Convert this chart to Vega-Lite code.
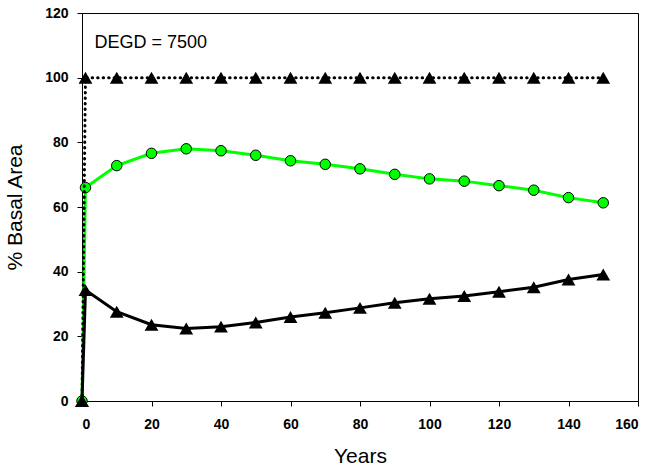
{
  "$schema": "https://vega.github.io/schema/vega-lite/v6.json",
  "width": 556,
  "height": 388,
  "autosize": "none",
  "padding": {"left": 82, "top": 13, "right": 10, "bottom": 71},
  "background": "white",
  "config": {
    "view": {"stroke": "black", "strokeWidth": 1},
    "font": "Liberation Sans",
    "axis": {
      "grid": false,
      "domainColor": "black",
      "tickColor": "black",
      "tickSize": 5,
      "labelFont": "Liberation Sans",
      "labelFontWeight": "bold",
      "labelFontSize": 14,
      "labelColor": "black",
      "titleFont": "Liberation Sans",
      "titleFontWeight": "normal",
      "titleFontSize": 21,
      "titleColor": "black"
    }
  },
  "datasets": {
    "series": [
      {"year": 0, "pct": 0, "series": "dotted"},
      {"year": 1, "pct": 100, "series": "dotted"},
      {"year": 10, "pct": 100, "series": "dotted"},
      {"year": 20, "pct": 100, "series": "dotted"},
      {"year": 30, "pct": 100, "series": "dotted"},
      {"year": 40, "pct": 100, "series": "dotted"},
      {"year": 50, "pct": 100, "series": "dotted"},
      {"year": 60, "pct": 100, "series": "dotted"},
      {"year": 70, "pct": 100, "series": "dotted"},
      {"year": 80, "pct": 100, "series": "dotted"},
      {"year": 90, "pct": 100, "series": "dotted"},
      {"year": 100, "pct": 100, "series": "dotted"},
      {"year": 110, "pct": 100, "series": "dotted"},
      {"year": 120, "pct": 100, "series": "dotted"},
      {"year": 130, "pct": 100, "series": "dotted"},
      {"year": 140, "pct": 100, "series": "dotted"},
      {"year": 150, "pct": 100, "series": "dotted"},
      {"year": 0, "pct": 0, "series": "green"},
      {"year": 1, "pct": 66.0, "series": "green"},
      {"year": 10, "pct": 72.8, "series": "green"},
      {"year": 20, "pct": 76.6, "series": "green"},
      {"year": 30, "pct": 78.0, "series": "green"},
      {"year": 40, "pct": 77.4, "series": "green"},
      {"year": 50, "pct": 76.0, "series": "green"},
      {"year": 60, "pct": 74.3, "series": "green"},
      {"year": 70, "pct": 73.2, "series": "green"},
      {"year": 80, "pct": 71.8, "series": "green"},
      {"year": 90, "pct": 70.1, "series": "green"},
      {"year": 100, "pct": 68.7, "series": "green"},
      {"year": 110, "pct": 68.0, "series": "green"},
      {"year": 120, "pct": 66.6, "series": "green"},
      {"year": 130, "pct": 65.2, "series": "green"},
      {"year": 140, "pct": 62.9, "series": "green"},
      {"year": 150, "pct": 61.3, "series": "green"},
      {"year": 0, "pct": 0, "series": "black"},
      {"year": 1, "pct": 34.3, "series": "black"},
      {"year": 10, "pct": 27.6, "series": "black"},
      {"year": 20, "pct": 23.6, "series": "black"},
      {"year": 30, "pct": 22.4, "series": "black"},
      {"year": 40, "pct": 23.0, "series": "black"},
      {"year": 50, "pct": 24.3, "series": "black"},
      {"year": 60, "pct": 26.0, "series": "black"},
      {"year": 70, "pct": 27.3, "series": "black"},
      {"year": 80, "pct": 28.8, "series": "black"},
      {"year": 90, "pct": 30.4, "series": "black"},
      {"year": 100, "pct": 31.6, "series": "black"},
      {"year": 110, "pct": 32.5, "series": "black"},
      {"year": 120, "pct": 33.8, "series": "black"},
      {"year": 130, "pct": 35.2, "series": "black"},
      {"year": 140, "pct": 37.6, "series": "black"},
      {"year": 150, "pct": 39.1, "series": "black"}
    ],
    "notes": [
      {"label": "DEGD = 7500", "year": 3.6, "pct": 110.8}
    ]
  },
  "data": {"name": "series"},
  "encoding": {
    "x": {
      "field": "year",
      "type": "quantitative",
      "title": "Years",
      "scale": {"domain": [0, 160], "nice": false, "zero": false},
      "axis": {"values": [0, 20, 40, 60, 80, 100, 120, 140, 160], "labelPadding": 11, "titlePadding": 14}
    },
    "y": {
      "field": "pct",
      "type": "quantitative",
      "title": "% Basal Area",
      "scale": {"domain": [0, 120], "nice": false},
      "axis": {"values": [0, 20, 40, 60, 80, 100, 120], "labelPadding": 9, "titlePadding": 19}
    }
  },
  "layer": [
    {
      "transform": [{"filter": "datum.series === 'green'"}],
      "mark": {"type": "line", "color": "#00ff00", "strokeWidth": 3},
      "encoding": {}
    },
    {
      "transform": [{"filter": "datum.series === 'green'"}],
      "mark": {"type": "point", "shape": "circle", "filled": true, "fill": "#00ff00", "stroke": "black", "strokeWidth": 1, "size": 110, "opacity": 1}
    },
    {
      "transform": [{"filter": "datum.series === 'black'"}],
      "mark": {"type": "line", "color": "black", "strokeWidth": 3},
      "encoding": {}
    },
    {
      "transform": [{"filter": "datum.series === 'black'"}],
      "mark": {"type": "point", "shape": "triangle-up", "filled": true, "color": "black", "size": 190, "opacity": 1}
    },
    {
      "transform": [{"filter": "datum.series === 'dotted'"}],
      "mark": {"type": "line", "color": "black", "strokeWidth": 3, "strokeDash": [0.5, 5], "strokeCap": "round"},
      "encoding": {}
    },
    {
      "transform": [{"filter": "datum.series === 'dotted'"}],
      "mark": {"type": "point", "shape": "triangle-up", "filled": true, "color": "black", "size": 190, "opacity": 1}
    },
    {
      "data": {"name": "notes"},
      "mark": {"type": "text", "align": "left", "baseline": "middle", "fontSize": 18, "font": "Liberation Sans", "fill": "black", "opacity": 1},
      "encoding": {
        "text": {"field": "label", "type": "nominal"}
      }
    }
  ]
}
